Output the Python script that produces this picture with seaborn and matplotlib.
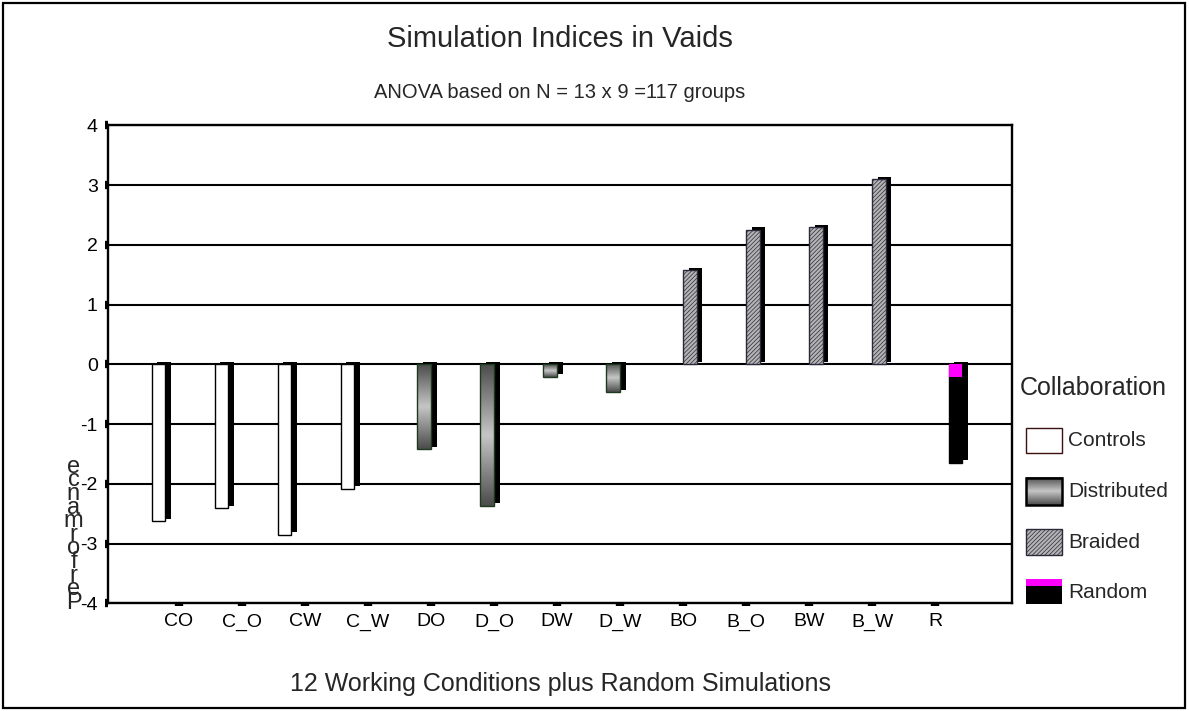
import matplotlib
matplotlib.use("Agg")
import matplotlib.pyplot as plt
from matplotlib.colors import LinearSegmentedColormap
from matplotlib.patches import Rectangle
import numpy as np
import pandas as pd
import seaborn as sns

# values
CONDITIONS = ["CO", "C_O", "CW", "C_W", "DO", "D_O", "DW", "D_W",
              "BO", "B_O", "BW", "B_W", "R"]
GROUPS = ["Controls"] * 4 + ["Distributed"] * 4 + ["Braided"] * 4 + ["Random"]
INDEX_VALUES = [-2.63, -2.41, -2.85, -2.08, -1.42, -2.37, -0.21, -0.47,
                1.57, 2.25, 2.29, 3.10, -1.65]
RANDOM_UPPER_PART = -0.22
HUE_ORDER = ["Controls", "Distributed", "Braided", "Random"]
Y_TICKS = [-4, -3, -2, -1, 0, 1, 2, 3, 4]

TITLE = "Simulation Indices in Vaids"
SUBTITLE = "ANOVA based on N = 13 x 9 =117 groups"
X_LABEL = "12 Working Conditions plus Random Simulations"
Y_LABEL = "Performance"
LEGEND_TITLE = "Collaboration"

W, H = 1189, 711

sns.set_theme(style="white")
plt.rcParams["font.family"] = ["Liberation Sans", "DejaVu Sans"]
plt.rcParams["hatch.linewidth"] = 0.5

df = pd.DataFrame({"condition": CONDITIONS, "group": GROUPS, "value": INDEX_VALUES})

fig = plt.figure(figsize=(W / 100, H / 100), dpi=100)
fig.patch.set_facecolor("white")

left, right, top, bottom = 108, 1012, 125.3, 603.3
ax = fig.add_axes([left / W, 1 - bottom / H, (right - left) / W, (bottom - top) / H])
ax.set_facecolor("white")

sns.barplot(
    data=df, x="condition", y="value", hue="group",
    order=CONDITIONS, hue_order=HUE_ORDER,
    palette={"Controls": "white", "Distributed": "#909090",
             "Braided": "#b4b4b4", "Random": "black"},
    saturation=1, width=0.86, dodge=True, errorbar=None,
    edgecolor="black", linewidth=1.0, legend=False, ax=ax, zorder=3,
)

grad = LinearSegmentedColormap.from_list("dist", ["#4c4c4c", "#c6c6c6"])
profile = (1 - np.abs(np.linspace(-1, 1, 80))).reshape(-1, 1)

dx = 5.5 / 63.0
lift = 2.5 / 59.75
for group, container in zip(HUE_ORDER, ax.containers):
    for patch in container.patches:
        x0, w, h = patch.get_x(), patch.get_width(), patch.get_height()
        ax.bar(x0 + dx, h, width=w, bottom=lift, align="edge",
               color="black", linewidth=0, zorder=2)
        if group == "Distributed":
            im = ax.imshow(profile, cmap=grad, aspect="auto", vmin=0, vmax=1,
                           extent=[x0, x0 + w, h, 0], zorder=3.2,
                           interpolation="bilinear")
            im.set_clip_path(patch)
            patch.set_facecolor("none")
            patch.set_edgecolor("#1e3a1e")
            patch.set_zorder(3.4)
        elif group == "Braided":
            patch.set_hatch("////////")
            patch.set_edgecolor("#2a2a3a")
        elif group == "Random":
            ax.bar(x0, RANDOM_UPPER_PART, width=w, align="edge",
                   color="#ff00ff", linewidth=0, zorder=3.6)

ax.set_xlim((left - 179) / 63.0, (right - 179) / 63.0)
ax.set_ylim(-4, 4)
ax.set_yticks(Y_TICKS)
ax.set_yticklabels([str(t) for t in Y_TICKS])
ax.set_xlabel("")
ax.set_ylabel("")
ax.yaxis.grid(True, color="black", linewidth=1.5, zorder=1)
ax.xaxis.grid(False)
ax.set_axisbelow(True)
for side in ["left", "right", "top", "bottom"]:
    ax.spines[side].set_visible(True)
    ax.spines[side].set_color("black")
    ax.spines[side].set_linewidth(1.7)
ax.tick_params(axis="both", direction="out", length=2.3, width=6,
               color="black", labelsize=14, pad=5, colors="black")
ax.tick_params(axis="x", bottom=True)
ax.tick_params(axis="y", left=True)

# overlay in pixel coordinates for titles, legend, border
ov = fig.add_axes([0, 0, 1, 1], facecolor="none")
ov.set_xlim(0, W)
ov.set_ylim(H, 0)
ov.axis("off")

ov.text(560, 39, TITLE, ha="center", va="center", fontsize=21)
ov.text(560, 93, SUBTITLE, ha="center", va="center", fontsize=14.5)
ov.text(560, 684, X_LABEL, ha="center", va="center", fontsize=18)

# stacked, upright letters of the y label, as in the reference
for i, letter in enumerate(Y_LABEL):
    ov.text(73.5, 602.7 - i * 13.6, letter, ha="center", va="center", fontsize=17)

ov.add_patch(Rectangle((3, 3), W - 7, H - 6, fill=False, edgecolor="black", linewidth=1.6))

ov.text(1020, 388, LEGEND_TITLE, ha="left", va="center", fontsize=18)
px0, pw = 1025.7, 36.6
ov.add_patch(Rectangle((px0, 428.3), pw, 25, facecolor="white", edgecolor="#3a1010", linewidth=1.0))
ov.text(1068, 440.8, "Controls", ha="left", va="center", fontsize=15)

ov.imshow(profile, cmap=grad, aspect="auto", vmin=0, vmax=1,
          extent=[px0, px0 + pw, 505, 477.7], interpolation="bilinear", zorder=2)
ov.add_patch(Rectangle((px0, 477.7), pw, 27.3, fill=False, edgecolor="black", linewidth=1.8, zorder=3))
ov.text(1068, 491.3, "Distributed", ha="left", va="center", fontsize=15)

ov.add_patch(Rectangle((px0, 529.3), pw, 25.7, facecolor="#b4b4b4", edgecolor="#2a2a3a",
                       hatch="////////", linewidth=1.0))
ov.text(1068, 542.2, "Braided", ha="left", va="center", fontsize=15)

ov.add_patch(Rectangle((px0, 579), pw, 6.7, facecolor="#ff00ff", linewidth=0))
ov.add_patch(Rectangle((px0, 585.7), pw, 18.3, facecolor="black", linewidth=0))
ov.text(1068, 593, "Random", ha="left", va="center", fontsize=15)
ov.set_xlim(0, W)
ov.set_ylim(H, 0)

fig.savefig("out.png", dpi=100)
